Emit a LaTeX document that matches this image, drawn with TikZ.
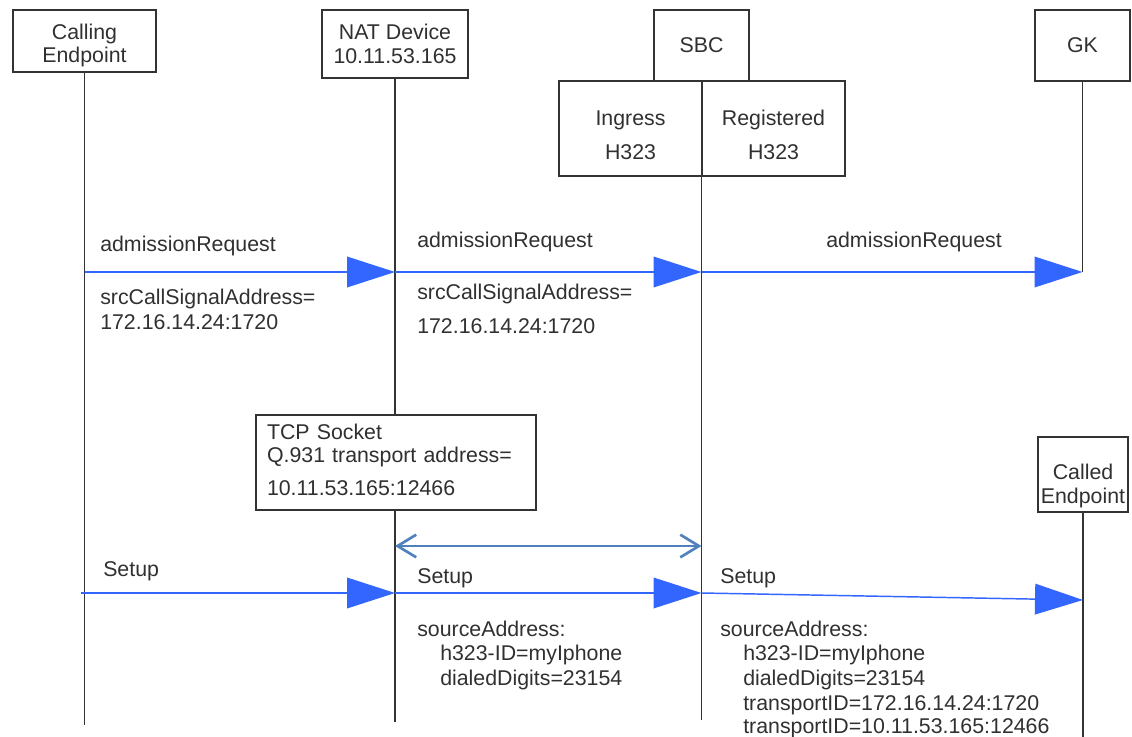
\documentclass[tikz,border=0pt]{standalone}
\usepackage{fontspec}
\setmainfont{Liberation Sans}
\usepackage{tikz}
\usetikzlibrary{
  arrows.meta,
  positioning
}
\definecolor{sqLine}{HTML}{333333}
\definecolor{sqText}{HTML}{303030}
\definecolor{sqMsg}{HTML}{3366FF}
\definecolor{sqLink}{HTML}{4F81BD}
\newcommand{\sqfont}{\fontsize{16}{17.5}\selectfont}
\newcommand{\toppad}[1]{\rule{0pt}{#1}}
\tikzset{
  sqbox/.style={
    draw=sqLine, line width=0.8pt, align=center, inner sep=0pt,
    text=sqText, font=\sqfont
  },
  actor/.style={sqbox, minimum width=#1},
  half/.style={sqbox, minimum width=107.25pt, minimum height=71.25pt},
  notebox/.style={sqbox, fill=white, align=left, text width=193.5pt,
    inner xsep=8.25pt, minimum height=71.25pt},
  lifeline/.style={draw=sqLine, line width=0.9pt},
  msg/.style={-{Triangle[length=36pt, width=23pt]}, sqMsg, line width=1.1pt},
  sockline/.style={{Straight Barb[length=14pt, width=17pt]}-{Straight Barb[length=14pt, width=17pt]},
    sqLink, line width=2pt},
  lbl/.style={anchor=base west, inner sep=0pt, text=sqText, font=\sqfont}
}

\begin{document}
\begin{tikzpicture}[x=0.75pt, y=-0.75pt]
  \useasboundingbox (0,0) rectangle (1132,737);

  % participants
  \node[actor=107.25pt, minimum height=46.5pt] (caller) at (84.5,41) {\toppad{18pt}Calling\\Endpoint};
  \node[actor=109.5pt, minimum height=51pt] (nat) at (395,44) {NAT Device\\10.11.53.165};
  \node[actor=71.25pt, minimum height=53.25pt] (sbc) at (701.5,45.5) {SBC};
  \node[half] (ingress) at (630.5,128.5) {\toppad{21pt}Ingress\\[8pt]H323};
  \node[half] (registered) at (773.5,128.5) {\toppad{21pt}Registered\\[8pt]H323};
  \node[actor=71.25pt, minimum height=53.25pt] (gk) at (1082.5,45.5) {GK};
  \node[actor=67.5pt, minimum height=56.25pt] (called) at (1083,474.5) {\toppad{29pt}Called\\Endpoint};

  % message levels and lifeline ends
  \coordinate (arqY) at (0,272);
  \coordinate (sockY) at (0,546);
  \coordinate (setY) at (0,593);
  \coordinate (setY2) at (0,600);
  \coordinate (callerEnd) at (84.5,725);
  \coordinate (natEnd) at (395,722);
  \coordinate (sbcEnd) at (701.5,720);
  \coordinate (calledEnd) at (1083,737);

  \draw[lifeline] (caller.south) -- (callerEnd);
  \draw[lifeline] (nat.south) -- (natEnd);
  \draw[lifeline] (sbc.south) -- (sbcEnd);
  \draw[lifeline] (gk.south) -- (gk |- arqY);
  \draw[lifeline] (called.south) -- (calledEnd);

  \node[notebox] (tcp) at (396,462.5) {TCP Socket\\Q.931 transport address=\\[7pt]10.11.53.165:12466\rule[-4.5pt]{0pt}{4.5pt}};

  % admission requests
  \draw[msg] (caller |- arqY) -- (nat |- arqY);
  \draw[msg] (nat |- arqY) -- (sbc |- arqY);
  \draw[msg] (sbc |- arqY) -- (gk |- arqY);

  \node[lbl] (arq1) at (100,252) {admissionRequest};
  \node[lbl] (src1) at (100,305) {srcCallSignalAddress=};
  \node[lbl] (adr1) at (100,330) {172.16.14.24:1720};
  \node[lbl] (arq2) at (417,248) {admissionRequest};
  \node[lbl] (src2) at (417,300) {srcCallSignalAddress=};
  \node[lbl] (adr2) at (417,334) {172.16.14.24:1720};
  \node[lbl] (arq3) at (826,248) {admissionRequest};

  % tcp connection
  \draw[sockline] (nat |- sockY) -- (sbc |- sockY);

  % setup messages
  \draw[msg] ([xshift=-3pt]caller |- setY) -- (nat |- setY);
  \draw[msg] (nat |- setY) -- (sbc |- setY);
  \draw[msg] (sbc |- setY) -- (called |- setY2);

  \node[lbl] (set1) at (103,577) {Setup};
  \node[lbl] (set2) at (417,584) {Setup};
  \node[lbl] (set3) at (720,584) {Setup};

  \node[lbl] (srcA2) at (417,636) {sourceAddress:};
  \node[lbl] (hid2) at (440,660) {h323-ID=myIphone};
  \node[lbl] (dig2) at (440,685) {dialedDigits=23154};

  \node[lbl] (srcA3) at (720,636) {sourceAddress:};
  \node[lbl] (hid3) at (743,660) {h323-ID=myIphone};
  \node[lbl] (dig3) at (743,685) {dialedDigits=23154};
  \node[lbl] (tid3) at (743,710) {transportID=172.16.14.24:1720};
  \node[lbl] (tid4) at (743,733) {transportID=10.11.53.165:12466};
\end{tikzpicture}
\end{document}
